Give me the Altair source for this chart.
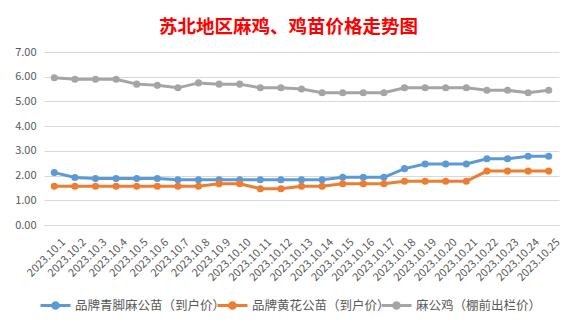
import altair as alt
import pandas as pd

dates = [f"2023.10.{i}" for i in range(1, 26)]
series_names = ["品牌青脚麻公苗（到户价）", "品牌黄花公苗（到户价）", "麻公鸡（棚前出栏价）"]
blue = [2.12, 1.92, 1.88, 1.88, 1.88, 1.88, 1.83, 1.83, 1.83, 1.83, 1.83, 1.83, 1.83,
        1.83, 1.93, 1.93, 1.93, 2.28, 2.47, 2.47, 2.47, 2.68, 2.68, 2.78, 2.78]
orange = [1.57, 1.57, 1.57, 1.57, 1.57, 1.57, 1.57, 1.57, 1.67, 1.67, 1.47, 1.47, 1.57,
          1.57, 1.67, 1.67, 1.67, 1.77, 1.77, 1.77, 1.77, 2.18, 2.18, 2.18, 2.18]
gray = [5.96, 5.9, 5.9, 5.9, 5.7, 5.65, 5.55, 5.75, 5.7, 5.7, 5.55, 5.55, 5.5,
        5.35, 5.35, 5.35, 5.35, 5.55, 5.55, 5.55, 5.55, 5.45, 5.45, 5.35, 5.45]
colors = ["#5B9BD5", "#ED7D31", "#A5A5A5"]

rows = []
for name, vals in zip(series_names, [blue, orange, gray]):
    for d, v in zip(dates, vals):
        rows.append({"date": d, "series": name, "value": v})
df = pd.DataFrame(rows)

font = "Noto Sans CJK SC"
sym = ("M-1,0L1,0 "
       "M0.09,0A0.09,0.09 0 1,1 -0.09,0A0.09,0.09 0 1,1 0.09,0 "
       "M0.19,0A0.19,0.19 0 1,1 -0.19,0A0.19,0.19 0 1,1 0.19,0")

x = alt.X("date:N", sort=dates, title=None,
          scale=alt.Scale(padding=0.5),
          axis=alt.Axis(labelAngle=-45, labelFontSize=11, labelColor="#595959", labelFont=font,
                        ticks=False, domainColor="#d9d9d9", labelPadding=11, labelOffset=5))
y = alt.Y("value:Q", title=None,
          scale=alt.Scale(domain=[0, 7]),
          axis=alt.Axis(values=[0, 1, 2, 3, 4, 5, 6, 7], format=".2f", labelFontSize=11,
                        labelColor="#595959", labelFont=font, ticks=False, domain=False,
                        gridColor="#d9d9d9", labelPadding=8))
color = alt.Color("series:N", sort=series_names,
                  scale=alt.Scale(domain=series_names, range=colors),
                  legend=alt.Legend(title=None, orient="none", direction="horizontal",
                                    legendX=-5, legendY=237, symbolType=sym, symbolSize=900,
                                    symbolStrokeWidth=3, labelFontSize=12.5, labelFont=font,
                                    labelColor="#595959", columnPadding=-15, labelOffset=3,
                                    labelLimit=300, gridAlign="none"))

base = alt.Chart(df).encode(x=x, y=y, color=color)
lines = base.mark_line(strokeWidth=3)
points = base.mark_point(filled=True, size=50, opacity=1)

chart = alt.layer(lines, points).properties(
    width=515, height=173,
    autosize=alt.AutoSizeParams(type="none"),
    padding={"left": 44, "top": 52, "right": 19, "bottom": 102},
    title=alt.TitleParams("苏北地区麻鸡、鸡苗价格走势图", color="#FF0000", fontSize=18.5,
                          font=font, fontWeight="bold", anchor="middle", dx=-13, offset=10),
    background="white",
).configure_view(stroke=None)

chart.save("out.html", embed_options={"renderer": "svg", "actions": False})
